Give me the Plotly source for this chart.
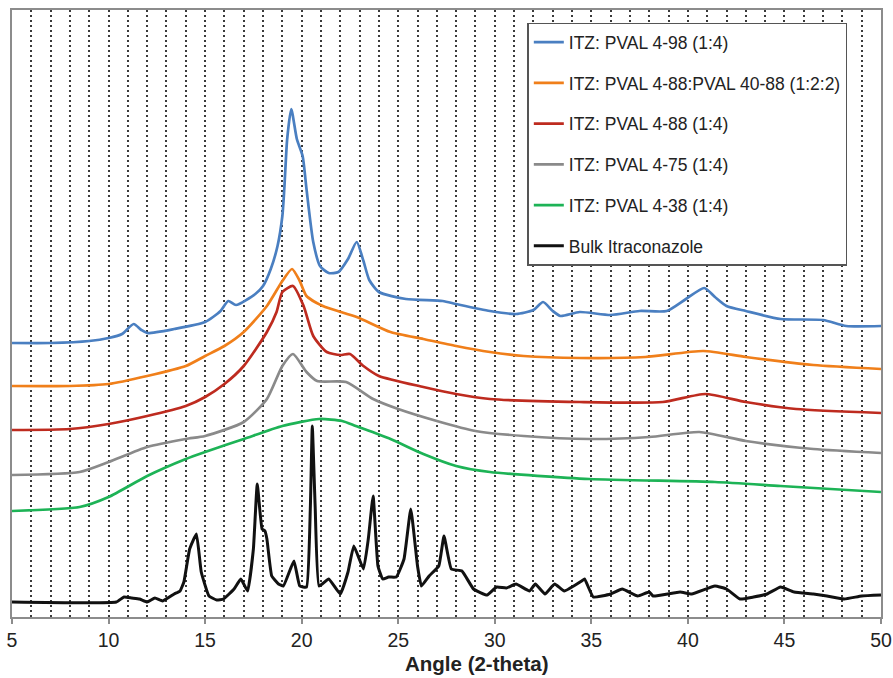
import plotly.graph_objects as go

# Powder X-ray diffraction patterns: ITZ solid dispersions with PVAL grades
# Intensities are in arbitrary units (patterns stacked with vertical offsets)

angle_pval_498 = [5.0, 7.0, 9.0, 10.0, 10.7, 11.3, 11.7, 12.0, 13.4, 15.0, 15.8, 16.2, 16.6, 17.6,
                  18.0, 18.4, 18.75, 19.0, 19.1, 19.25, 19.46, 19.75, 20.05, 20.25, 20.6, 20.95,
                  21.4, 21.9, 22.4, 22.85, 23.2, 23.5, 24.0, 25.4, 27.3, 28.0, 29.75, 31.1, 32.0,
                  32.5, 33.0, 33.4, 34.4, 36.0, 37.5, 38.9, 39.9, 40.85, 41.4, 42.0, 43.0, 44.8,
                  47.0, 48.2, 50.0]
int_pval_498 = [274, 274, 276, 279, 283, 293, 287, 284, 288, 295, 306, 316, 312, 323,
                331, 348, 371, 401, 428, 478, 508, 478, 461, 428, 375, 351,
                344, 345, 358, 375, 356, 337, 325, 318, 316, 313, 306, 303, 307,
                315, 306, 301, 305, 302, 306, 306, 318, 329, 320, 311, 306, 298,
                297, 291, 291]

angle_pval_488_4088 = [5.0, 8.0, 10.0, 12.0, 14.0, 15.0, 16.0, 17.0, 18.2, 19.0, 19.5, 19.9, 20.25,
                       21.1, 22.85, 24.6, 26.3, 28.0, 29.75, 31.5, 34.4, 37.8, 40.8, 43.0, 46.5, 50.0]
int_pval_488_4088 = [231, 231, 233, 241, 251, 261, 271, 285, 311, 336, 348, 336, 321,
                     311, 300, 285, 278, 271, 265, 261, 259, 260, 266, 260, 252, 248]

angle_pval_488 = [5.0, 8.0, 10.0, 12.0, 14.0, 15.0, 16.0, 17.0, 18.2, 18.7, 19.0, 19.55, 20.1, 20.6,
                  21.3, 22.0, 22.5, 23.2, 24.0, 26.3, 28.0, 29.75, 34.4, 38.7, 40.9, 43.0, 45.6, 50.0]
int_pval_488 = [187, 188, 193, 201, 211, 220, 233, 251, 285, 305, 325, 331, 311, 281,
                265, 262, 263, 251, 241, 230, 223, 218, 215, 215, 223, 215, 208, 204]

angle_pval_475 = [5.0, 8.5, 10.0, 12.0, 14.0, 15.0, 17.0, 18.2, 19.0, 19.55, 20.25, 20.8, 22.3,
                  23.7, 25.0, 27.0, 29.0, 31.5, 34.9, 38.0, 40.6, 43.0, 46.5, 50.0]
int_pval_475 = [142, 145, 155, 170, 178, 181, 195, 218, 251, 263, 245, 236, 235,
                218, 208, 196, 186, 181, 178, 180, 185, 176, 168, 164]

angle_pval_438 = [5.0, 8.5, 10.0, 12.0, 14.0, 15.0, 17.0, 19.0, 20.9, 22.1, 22.8, 24.6, 26.3,
                  28.0, 29.75, 34.9, 41.4, 44.8, 50.0]
int_pval_438 = [106, 110, 120, 141, 158, 165, 178, 191, 198, 196, 191, 178, 163,
                151, 145, 138, 135, 131, 125]

angle_bulk = [5.0, 10.4, 10.8, 11.2, 11.6, 12.0, 12.4, 12.8, 13.4, 13.7, 13.9, 14.2, 14.55, 14.8,
              15.2, 15.6, 15.95, 16.5, 16.85, 17.2, 17.5, 17.7, 17.95, 18.1, 18.2, 18.45, 18.8,
              19.05, 19.6, 19.9, 20.25, 20.45, 20.55, 20.7, 20.9, 21.4, 22.0, 22.4, 22.7, 23.2,
              23.45, 23.7, 23.95, 24.2, 24.5, 24.9, 25.3, 25.65, 26.0, 26.2, 26.6, 27.1, 27.37,
              27.75, 28.3, 28.9, 29.6, 30.1, 30.6, 31.1, 31.8, 32.1, 32.6, 33.1, 33.6, 34.5,
              34.65, 35.1, 36.0, 36.6, 37.4, 38.0, 38.2, 39.6, 40.2, 41.4, 42.0, 42.7, 43.4,
              44.1, 44.8, 45.5, 46.5, 47.2, 48.1, 49.0, 50.0]
int_bulk = [15, 15, 20, 19, 18, 15, 19, 16, 23, 26, 35, 68, 83, 45,
            21, 17, 18, 28, 38, 26, 68, 133, 88, 86, 78, 41, 33,
            31, 56, 31, 30, 110, 191, 110, 31, 38, 23, 45, 71, 48,
            78, 121, 51, 38, 40, 40, 58, 108, 51, 31, 41, 51, 81,
            48, 46, 28, 22, 30, 29, 33, 26, 33, 23, 33, 26, 36,
            38, 20, 23, 28, 21, 25, 21, 25, 23, 31, 28, 18, 20,
            23, 30, 25, 23, 21, 18, 21, 22]

series_names = [
    "ITZ: PVAL 4-98 (1:4)",
    "ITZ: PVAL 4-88:PVAL 40-88 (1:2:2)",
    "ITZ: PVAL 4-88 (1:4)",
    "ITZ: PVAL 4-75 (1:4)",
    "ITZ: PVAL 4-38 (1:4)",
    "Bulk Itraconazole",
]
series_x = [angle_pval_498, angle_pval_488_4088, angle_pval_488, angle_pval_475, angle_pval_438, angle_bulk]
series_y = [int_pval_498, int_pval_488_4088, int_pval_488, int_pval_475, int_pval_438, int_bulk]
series_colors = ["#4a7fc1", "#f07f1a", "#be2b1f", "#8a8a8a", "#1db356", "#111111"]
series_smoothing = [0.6, 0.6, 0.6, 0.6, 0.6, 0.35]

fig = go.Figure()
for i, (name, xs, ys, col, sm) in enumerate(zip(series_names, series_x, series_y,
                                                 series_colors, series_smoothing)):
    fig.add_trace(go.Scatter(
        x=xs, y=ys, name=name, mode="lines",
        line=dict(color=col, width=2.7 if i < 5 else 3, shape="spline", smoothing=sm),
        legendgroup=f"g{i}",
    ))

font_family = "Liberation Sans, Arial, sans-serif"
frame_color = "#8c8c8c"
grid_color = "#3a3a3a"

fig.update_layout(
    width=893, height=678,
    margin=dict(l=12, r=12, t=10, b=61, autoexpand=False),
    paper_bgcolor="white", plot_bgcolor="white",
    font=dict(family=font_family, color="#222"),
    showlegend=True,
    legend=dict(
        x=0.593, y=0.979, xanchor="left", yanchor="top",
        bgcolor="white", bordercolor="#555", borderwidth=1.5,
        font=dict(size=17.5, color="#222"),
        tracegroupgap=15, traceorder="grouped",
        itemwidth=30,
    ),
    xaxis=dict(
        range=[5, 50], dtick=5, tick0=5, automargin=False,
        showline=True, linecolor=frame_color, linewidth=2, mirror=True,
        ticks="outside", ticklen=5, tickcolor=frame_color, tickwidth=1.5,
        tickfont=dict(size=19.5, color="#222"),
        showgrid=True, gridcolor=grid_color, gridwidth=1.6, griddash="2px,3px",
        minor=dict(dtick=1, showgrid=True, gridcolor=grid_color, gridwidth=1.6, griddash="2px,3px"),
        zeroline=False,
    ),
    yaxis=dict(
        range=[0, 607], automargin=False,
        showline=True, linecolor=frame_color, linewidth=2, mirror=True,
        showticklabels=False, ticks="", showgrid=False, zeroline=False,
    ),
    annotations=[dict(
        text="<b>Angle (2-theta)</b>", xref="paper", yref="paper",
        x=0.535, y=-0.0758, xanchor="center", yanchor="middle", showarrow=False,
        font=dict(size=20.5, color="#222"),
    )],
)

fig.write_html("out.html")
